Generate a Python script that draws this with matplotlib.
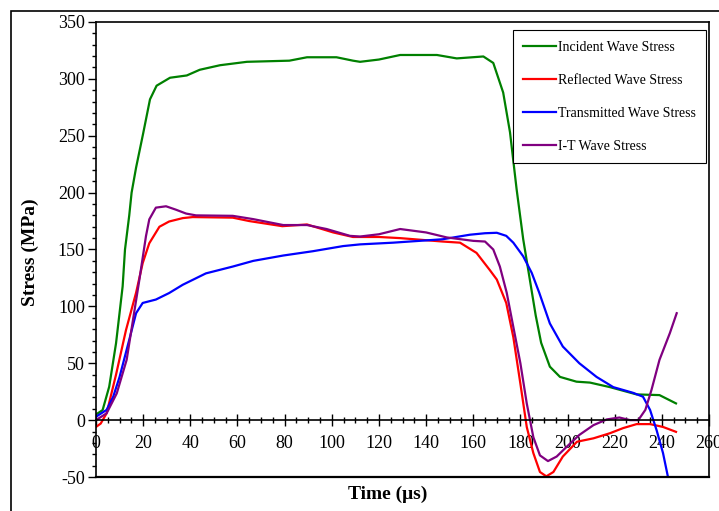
import numpy as np
import matplotlib
matplotlib.use("Agg")
import matplotlib.pyplot as plt
from matplotlib.ticker import MultipleLocator
from matplotlib.patches import Rectangle

# values (time in us, stress in MPa)
t_inc = [0, 2.8, 5.6, 8.5, 11.3, 12.3, 14.1, 15.1, 17, 20, 22.9, 25.7, 31.4, 38.5, 44, 52.6, 64, 82, 89.5, 102,
         109, 112, 120, 129, 144.6, 153, 164.3, 168.5, 172.7, 175.6, 178.4, 181.2, 184, 186.5, 188.8, 192.5,
         196.8, 203.8, 209.5, 218, 229.3, 239, 246]
s_inc = [5, 8.8, 29.4, 67.6, 117.6, 150, 180, 200, 222, 252, 282, 294, 301, 303, 308, 312, 315, 316, 319, 319,
         316, 315, 317, 321, 321, 318, 319.7, 314, 288, 253, 203, 159, 123.6, 92, 68, 47,
         38, 33.8, 33, 29, 22.6, 22, 14.7]

t_ref = [0, 2, 4.5, 8.5, 12.7, 17, 19.8, 22.6, 26.9, 31, 36.8, 41, 58, 65, 79, 89.5, 100.6, 109, 120,
         129, 147, 154.4, 161.4, 167, 170, 174, 177, 180, 182.7, 185.5, 188.3, 191, 194, 198, 204,
         211, 218, 223.6, 229.3, 235, 240.5, 246]
s_ref = [-6, -3, 6, 40, 79, 112, 138, 155.5, 170, 174.6, 177.6, 178.5, 178, 175, 170.5, 172, 165, 161, 161,
         160, 157, 156, 147, 132, 123.6, 103, 73, 32, -6, -29, -45.6, -49.4, -45.6, -32, -19,
         -16, -11.5, -7, -3.5, -3.5, -6, -10.3]

t_tra = [0, 4.5, 7.3, 10, 14.1, 17, 19.8, 25.4, 31, 36.8, 46.6, 58, 66.7, 79.4, 92, 104.8, 112, 126,
         147, 158.6, 165, 170, 174, 177, 181.2, 184.8, 188, 192.5, 198, 205, 212.3, 219.4, 227.8, 232, 235,
         237.8, 240.5, 242.6]
s_tra = [3, 9, 20.6, 38, 70.6, 94, 103, 106, 111.7, 119, 129, 135, 140, 144.7, 148.5, 153, 154.5, 156,
         159, 163, 164.3, 164.7, 162, 156, 144, 129.5, 112, 85, 64.7, 50, 38, 29, 24, 20.6, 9,
         -9, -29, -50]

t_it = [0, 4.5, 8.8, 13, 18.4, 21.2, 22.6, 25.4, 29.7, 33.9, 38.2, 42.4, 58, 66.7, 79.4, 89.5, 97.8, 107.7, 112,
        120, 129, 140, 148.8, 160, 165, 168.5, 171.3, 174.2, 177, 180, 182.7, 185.5, 188.3, 191.7, 195.4,
        199.6, 205, 211, 216.6, 222, 226.5, 230, 233, 235.6, 239, 243.4, 246.3]
s_it = [0, 6, 23.5, 53, 123.5, 161.8, 176.5, 186.8, 188, 185, 181.6, 180, 179.6, 176.7, 171.5, 171.5, 168, 162,
        161.4, 163.4, 168, 165, 160.6, 157.6, 157, 150, 135, 112, 82, 50, 14.7, -15, -31, -36, -32,
        -23.5, -13, -4.4, 0.6, 2.3, 0, 0, 9, 26.5, 53, 76.5, 94]

plt.rcParams['font.family'] = ['Liberation Serif', 'DejaVu Serif']
plt.rcParams['axes.unicode_minus'] = False

fig = plt.figure(figsize=(7.19, 5.11), dpi=100)
ax = fig.add_axes([96 / 719, 34 / 511, 613 / 719, 455 / 511])

# outer frame of the chart area
fig.patches.append(Rectangle((11 / 719, -0.1), 1.2, (500 / 511) + 0.1, transform=fig.transFigure,
                             fill=False, edgecolor='black', lw=1.2, clip_on=False))

ax.plot(t_inc, s_inc, color='#008000', lw=1.6, label='Incident Wave Stress')
ax.plot(t_ref, s_ref, color='#ff0000', lw=1.6, label='Reflected Wave Stress')
ax.plot(t_tra, s_tra, color='#0000ff', lw=1.6, label='Transmitted Wave Stress')
ax.plot(t_it, s_it, color='#800080', lw=1.6, label='I-T Wave Stress')

ax.set_xlim(0, 260)
ax.set_ylim(-50, 350)

ax.spines['bottom'].set_position(('data', 0))
ax.axhline(-50, color='black', lw=1.6, clip_on=False)
for sp in ['left', 'right', 'top', 'bottom']:
    ax.spines[sp].set_linewidth(1.2)

ax.xaxis.set_major_locator(MultipleLocator(20))
ax.xaxis.set_minor_locator(MultipleLocator(5))
ax.yaxis.set_major_locator(MultipleLocator(50))
ax.yaxis.set_minor_locator(MultipleLocator(10))
ax.tick_params(axis='x', which='major', direction='inout', length=9, width=1, labelsize=13, pad=6)
ax.tick_params(axis='x', which='minor', direction='inout', length=5, width=1)
ax.tick_params(axis='y', which='major', direction='out', length=6, width=1, labelsize=13, pad=2)
ax.tick_params(axis='y', which='minor', direction='out', length=3, width=1)

fig.text(388 / 719, 1 - 494 / 511, 'Time (μs)', ha='center', va='center', fontsize=14, fontweight='bold')
fig.text(30 / 719, 1 - 252 / 511, 'Stress (MPa)', ha='center', va='center', rotation=90,
         fontsize=14, fontweight='bold')

leg = ax.legend(loc='upper right', bbox_to_anchor=(0.995, 0.982), borderaxespad=0, fontsize=10,
                frameon=True, fancybox=False, edgecolor='black', framealpha=1, labelspacing=1.45,
                handlelength=2.4, handletextpad=0.1, borderpad=0.75)
leg.get_frame().set_linewidth(0.8)

fig.savefig('out.png', dpi=100)
